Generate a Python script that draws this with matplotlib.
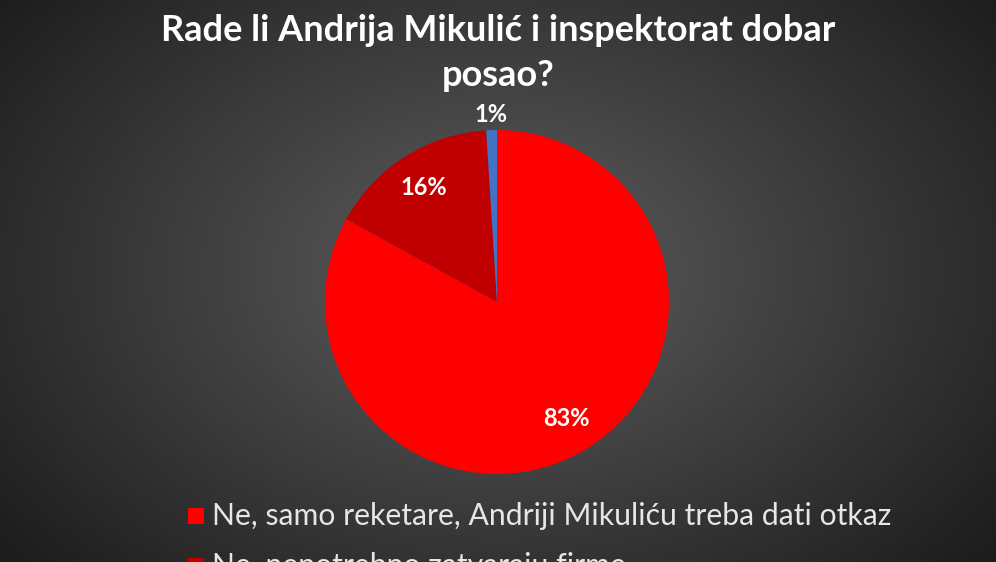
import numpy as np
import matplotlib
matplotlib.use("Agg")
import matplotlib.pyplot as plt
from matplotlib.patches import Rectangle

# podaci
title = "Rade li Andrija Mikulić i inspektorat dobar\nposao?"
labels = ["Ne, samo reketare, Andriji Mikuliću treba dati otkaz",
          "Ne, nepotrebno zatvaraju firme",
          "Da"]
values = [83, 16, 1]
colors = ["#ff0000", "#c00000", "#4472c4"]

plt.rcParams['font.family'] = ['Lato', 'DejaVu Sans']

W, H = 996, 562
fig = plt.figure(figsize=(W / 100, H / 100), dpi=100)
ax = fig.add_axes([0, 0, 1, 1])

# radijalni gradijent pozadine
yy, xx = np.mgrid[0:H, 0:W]
d = np.sqrt(((xx - 498) / 620.0) ** 2 + ((yy - 290) / 430.0) ** 2)
g = np.clip(0.37 - 0.25 * d, 0.1, 1)
ax.imshow(np.dstack([g, g, g]), extent=(0, W, 0, H), origin="lower", zorder=0)

cx, cy, r = 497, 260, 172
wedges, texts, pcts = ax.pie(values, colors=colors, startangle=90, counterclock=False,
                             center=(cx, cy), radius=r, autopct="%d%%", pctdistance=0.79,
                             wedgeprops=dict(linewidth=0),
                             textprops=dict(color="white", fontsize=17, fontweight="bold"))
# 1% ide izvan kruga
w = wedges[2]
ang = np.deg2rad((w.theta1 + w.theta2) / 2)
pcts[2].set_position((cx + 1.09 * r * np.cos(ang), cy + 1.09 * r * np.sin(ang)))

ax.set_xlim(0, W)
ax.set_ylim(0, H)
ax.axis("off")

ax.text(W / 2, H - 53, title, ha="center", va="center", color="white",
        fontsize=26, fontweight="bold", linespacing=1.42)

# legenda (dio odrezan na dnu)
ly = [H - 516, H - 566]
for i in range(2):
    ax.add_patch(Rectangle((188, ly[i] - 8), 16, 16, color=colors[i], lw=0))
    ax.text(212, ly[i], labels[i], ha="left", va="center", color="#e6e6e6", fontsize=21.7)

fig.savefig("out.png", dpi=100)
